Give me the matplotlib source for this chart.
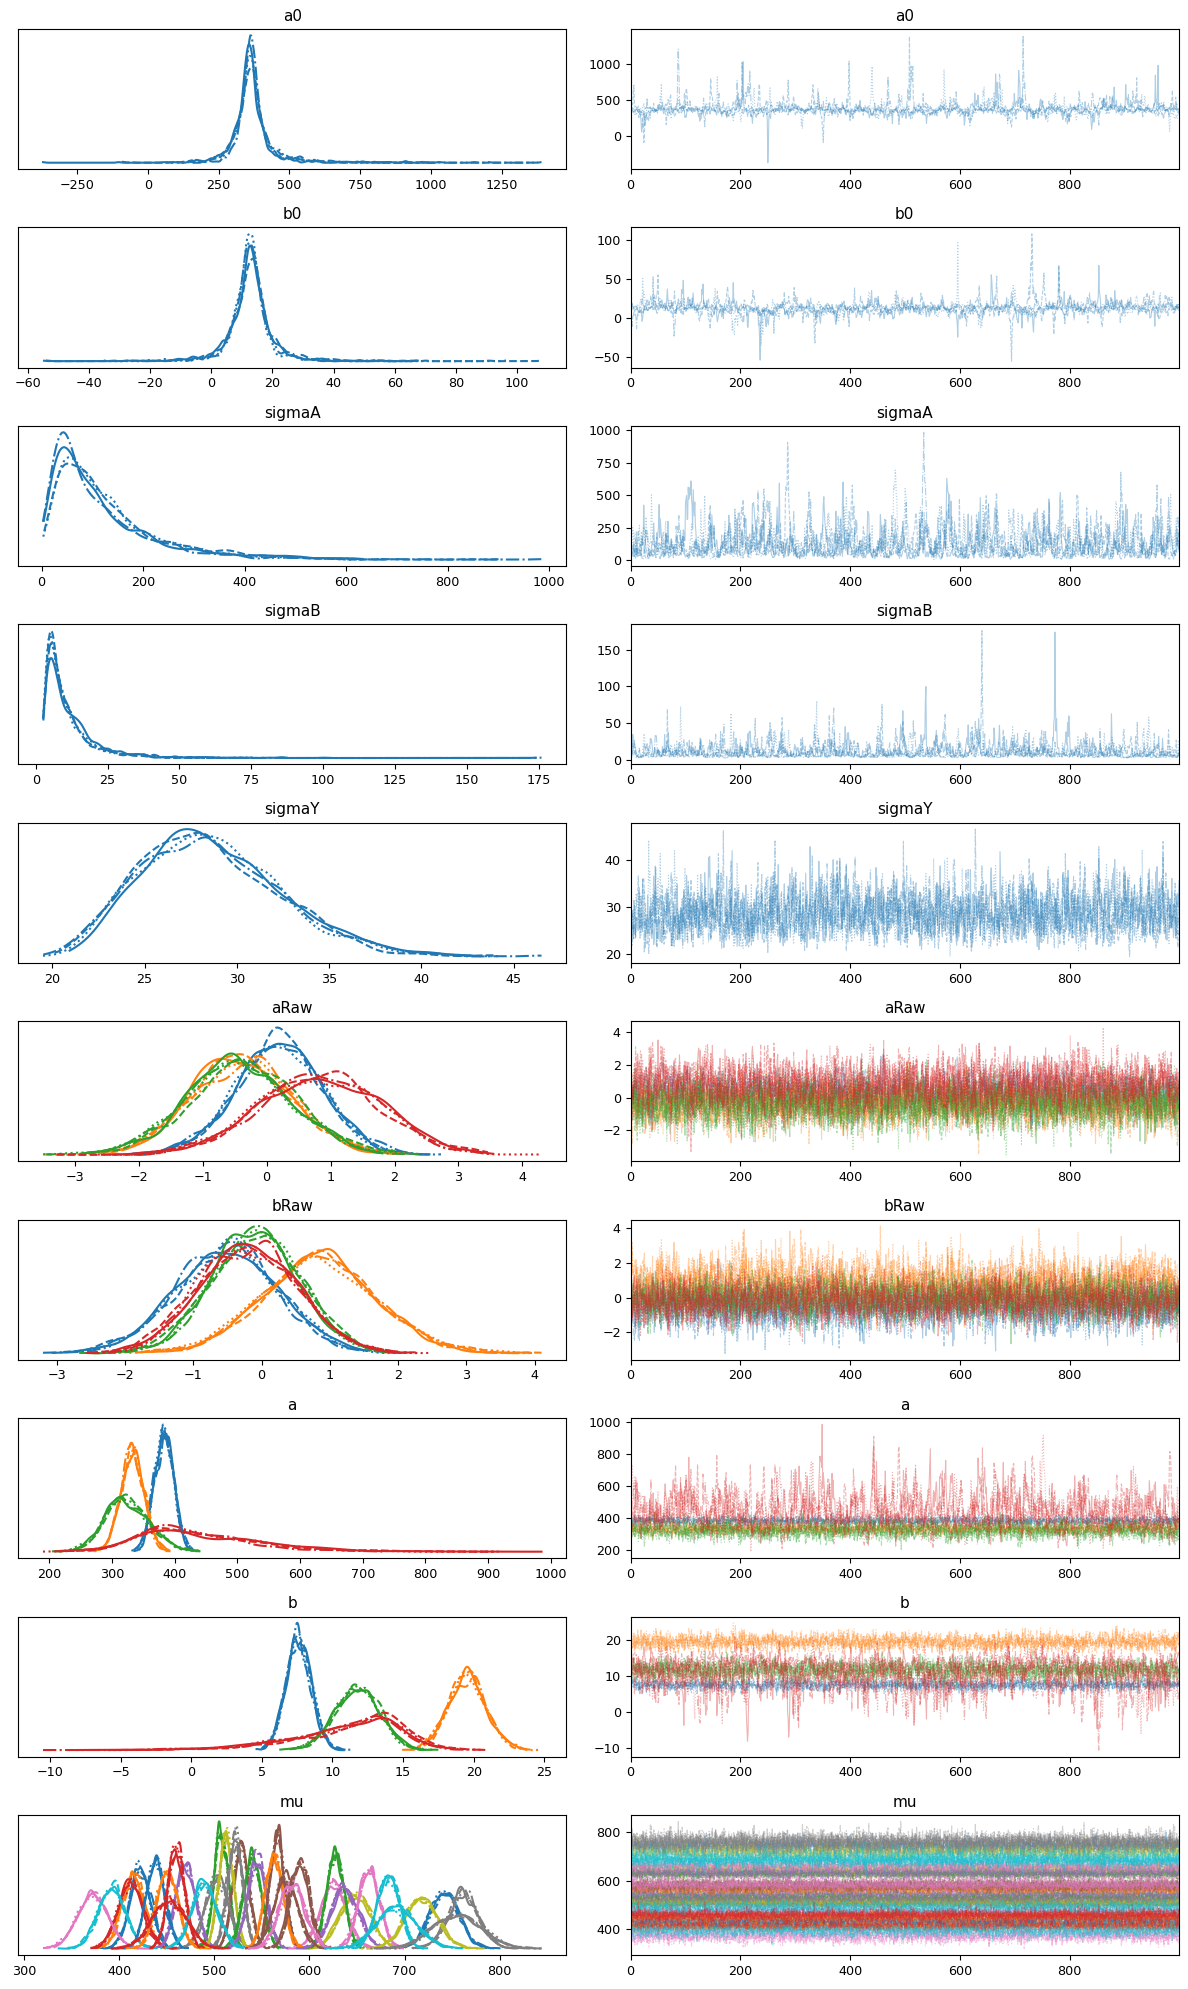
import numpy as np
import matplotlib
matplotlib.use("Agg")
import matplotlib.pyplot as plt

# MCMC trace summary: 4 chains x 1000 draws per variable.
# Each component is described by its centre, the spread left/right of it
# (log-scale spread for the sigma terms), the lag-1 autocorrelation of the
# chains and the lowest / highest draw seen (nan = not pinned).
n_chains = 4
n_draws = 1000
nan = np.nan

scalar_names = ["a0", "b0", "sigmaA", "sigmaB", "sigmaY"]
scalar_centre = [365, 13, 90, 8.0, 28.3]
scalar_left = [30, 3.8, 0.9, 0.75, 0.14]
scalar_right = [32, 3.8, 0.9, 0.75, 0.14]
scalar_rho = [0.8, 0.8, 0.75, 0.75, 0.4]
scalar_log = [False, False, True, True, True]
scalar_lo = [-370, -55, nan, 2.5, 19.5]
scalar_hi = [1390, 108, 985, 176, 46.5]

araw_centre = [0.2, -0.4, -0.4, 0.85]
araw_sd = [0.68, 0.8, 0.83, 0.95]
araw_lo = [nan, nan, -3.5, nan]
araw_hi = [nan, nan, nan, 4.3]

braw_centre = [-0.5, 0.85, -0.1, -0.2]
braw_sd = [0.75, 0.82, 0.65, 0.72]
braw_lo = [-3.2, nan, nan, nan]
braw_hi = [nan, 4.1, nan, nan]

a_centre = [383, 333, 322, 415]
a_left = [15, 19, 32, 60]
a_right = [15, 19, 38, 110]
a_rho = [0.3, 0.3, 0.3, 0.75]
a_lo = [nan, nan, nan, 190]
a_hi = [nan, nan, nan, 985]

b_centre = [7.6, 19.5, 11.8, 11.8]
b_left = [0.9, 1.3, 1.6, 5.0]
b_right = [0.9, 1.3, 1.6, 2.2]
b_rho = [0.3, 0.3, 0.3, 0.7]
b_lo = [nan, nan, nan, -10.5]
b_hi = [nan, 24.8, nan, 21]

# mu components, 10 per row (nan = index not shown); height = peak height
mu_centre = [
    [422, 415, 507, 412, 470, 528, 372, 503, 512, 392],
    [438, 450, 540, 460, 545, 566, 625, 522, 648, 490],
    [742, 563, 627, 452, 637, 590, 663, 762, 717, 683],
    [nan, nan, nan, nan, nan, 575, 582, 755, nan, 692],
]
mu_height = [
    [0.66, 0.60, 0.96, 0.54, 0.69, 0.86, 0.45, 0.59, 0.92, 0.52],
    [0.73, 0.63, 0.75, 0.85, 0.74, 0.94, 0.54, 0.89, 0.46, 0.53],
    [0.47, 0.78, 0.79, 0.40, 0.50, 0.73, 0.66, 0.45, 0.42, 0.61],
    [nan, nan, nan, nan, nan, 0.59, 0.54, 0.28, nan, 0.34],
]

rng = np.random.default_rng(7)


def stretch(y, span):
    # keeps the core of y, bends the tail so the most extreme draw hits span
    ym = np.abs(y).max()
    if np.isnan(span) or ym == 0:
        return y
    r = span / ym
    if abs(r - 1) < 1e-9:
        return y
    f = (lambda u: np.sinh(u) / u) if r > 1 else (lambda u: np.arcsinh(u) / u)
    t0, t1 = 1e-6, 30.0
    for _ in range(80):
        t = 0.5 * (t0 + t1)
        if (f(t) < r) == (r > 1):
            t0 = t
        else:
            t1 = t
    g = np.sinh if r > 1 else np.arcsinh
    return ym * g(t * y / ym) / t


def draw(centre, left, right, rho=0.3, log=False, lo=nan, hi=nan):
    e = rng.standard_normal((n_chains, n_draws))
    z = np.empty_like(e)
    z[:, 0] = e[:, 0]
    k = np.sqrt(1 - rho ** 2)
    for t in range(1, n_draws):
        z[:, t] = rho * z[:, t - 1] + k * e[:, t]
    y = z * (0.5 * (left + right) + 0.5 * (right - left) * np.tanh(z))
    if log:
        m = np.log(centre)
        up, down = np.log(hi) - m, m - np.log(lo)
    else:
        m = centre
        up, down = hi - m, m - lo
    pos = y >= 0
    out = np.empty_like(y)
    out[pos] = stretch(y[pos], up)
    out[~pos] = -stretch(-y[~pos], down)
    out = m + out
    return np.exp(out) if log else out


def kde(x):
    n = len(x)
    iqr = np.subtract(*np.percentile(x, [75, 25]))
    bw = 0.85 * 0.9 * min(x.std(), iqr / 1.34) * n ** -0.2
    grid = np.linspace(x.min(), x.max(), 400)
    d = np.exp(-0.5 * ((grid[:, None] - x[None, :]) / bw) ** 2).sum(1)
    return grid, d / (n * bw * np.sqrt(2 * np.pi))


variables = []
for i, name in enumerate(scalar_names):
    x = draw(scalar_centre[i], scalar_left[i], scalar_right[i], scalar_rho[i],
             scalar_log[i], scalar_lo[i], scalar_hi[i])
    variables.append((name, [(x, "C0")]))

variables.append(("aRaw", [(draw(araw_centre[j], araw_sd[j], araw_sd[j],
                                 lo=araw_lo[j], hi=araw_hi[j]), "C%d" % j)
                           for j in range(4)]))
variables.append(("bRaw", [(draw(braw_centre[j], braw_sd[j], braw_sd[j],
                                 lo=braw_lo[j], hi=braw_hi[j]), "C%d" % j)
                           for j in range(4)]))
variables.append(("a", [(draw(a_centre[j], a_left[j], a_right[j], a_rho[j],
                              lo=a_lo[j], hi=a_hi[j]), "C%d" % j)
                        for j in range(4)]))
variables.append(("b", [(draw(b_centre[j], b_left[j], b_right[j], b_rho[j],
                              lo=b_lo[j], hi=b_hi[j]), "C%d" % j)
                        for j in range(4)]))

mu_comps = []
for r in range(len(mu_centre)):
    for j in range(10):
        if np.isnan(mu_centre[r][j]):
            continue
        sd = 7.2 / mu_height[r][j]
        mu_comps.append((draw(mu_centre[r][j], sd, sd, rho=0.05), "C%d" % j))
variables.append(("mu", mu_comps))

styles = ["-", "--", ":", "-."]

fig, axes = plt.subplots(len(variables), 2, figsize=(11.88, 19.89), dpi=100)
fig.subplots_adjust(left=0.0152, right=0.9924, top=0.9854, bottom=0.0171,
                    hspace=0.417, wspace=0.117)

for row, (name, comps) in enumerate(variables):
    ax_d, ax_t = axes[row]
    for x, color in comps:
        for c in range(n_chains):
            g, d = kde(x[c])
            ax_d.plot(g, d, color=color, ls=styles[c], lw=1.5)
    for x, color in comps:
        for c in range(n_chains):
            ax_t.plot(np.arange(n_draws), x[c], color=color, ls=styles[c],
                      lw=0.8, alpha=0.35)
    ax_d.set_yticks([])
    ax_t.set_xlim(0, n_draws - 1)
    ax_t.set_xticks([0, 200, 400, 600, 800])
    for ax in (ax_d, ax_t):
        ax.set_title(name, fontsize=11)
        ax.tick_params(labelsize=9.2)

fig.savefig("out.png", dpi=100)
